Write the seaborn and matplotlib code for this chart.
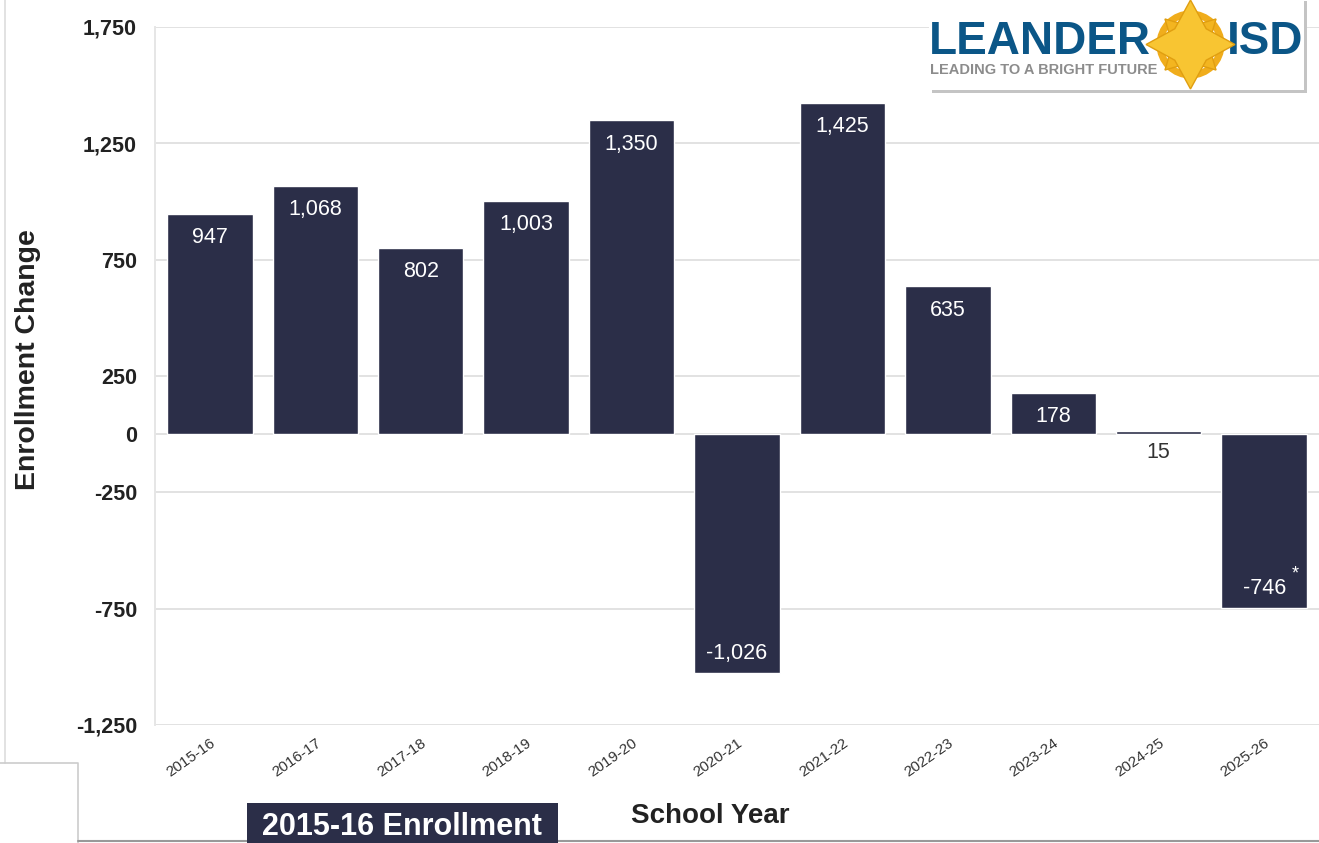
import matplotlib
matplotlib.use("Agg")
import matplotlib.pyplot as plt
import seaborn as sns
import pandas as pd
from matplotlib.lines import Line2D
from matplotlib.patches import Rectangle

years = ["2015-16", "2016-17", "2017-18", "2018-19", "2019-20", "2020-21",
         "2021-22", "2022-23", "2023-24", "2024-25", "2025-26"]
changes = [947, 1068, 802, 1003, 1350, -1026, 1425, 635, 178, 15, -746]
ytick_vals = [1750, 1250, 750, 250, 0, -250, -750, -1250]

sns.set_theme(style="whitegrid")
plt.rcParams['font.family'] = ['Liberation Sans', 'DejaVu Sans']

BAR = "#2b2e48"
df = pd.DataFrame({"year": years, "change": changes})

fig = plt.figure(figsize=(13.19, 8.43), dpi=100)
ax = fig.add_axes([0.1175, 0.14, 0.8825, 0.828])
sns.barplot(data=df, x="year", y="change", color=BAR, width=0.81,
            saturation=1, ax=ax, zorder=3)

ax.set_ylim(-1250, 1750)
ax.set_xlim(-0.52, len(years) - 0.48)
ax.set_yticks(ytick_vals)
ax.set_yticklabels([f"{v:,}" for v in ytick_vals], fontsize=15.5,
                   fontweight="bold", color="#222222")
ax.set_xticks(range(len(years)))
ax.set_xticklabels(years, rotation=35, ha="right", rotation_mode="anchor",
                   fontsize=11, color="#333333")
ax.tick_params(axis="x", pad=8, length=0)
ax.tick_params(axis="y", pad=13, length=0)
ax.grid(axis="y", color="#e2e2e2", linewidth=1.4, zorder=0)
ax.grid(axis="x", visible=False)
for s in ["top", "right", "bottom"]:
    ax.spines[s].set_visible(False)
ax.spines["left"].set_color("#e6e6e6")
ax.spines["left"].set_linewidth(1.4)

ax.set_ylabel("Enrollment Change", fontsize=20.5, fontweight="bold",
              color="#222222")
ax.yaxis.set_label_coords(-0.098, 0.524)
ax.set_xlabel("School Year", fontsize=20, fontweight="bold", color="#222222")
ax.xaxis.set_label_coords(0.477, -0.112)

LBL = 15.5
for i, v in enumerate(changes):
    if abs(v) < 100:
        ax.annotate(f"{v:,}", (i, 0), xytext=(0, -18), textcoords="offset pixels",
                    ha="center", va="center", fontsize=LBL, color="#333333", zorder=5)
    elif v > 0:
        ax.annotate(f"{v:,}", (i, v), xytext=(0, -24), textcoords="offset pixels",
                    ha="center", va="center", fontsize=LBL, color="white", zorder=5)
    else:
        ax.annotate(f"{v:,}", (i, v), xytext=(0, 19), textcoords="offset pixels",
                    ha="center", va="center", fontsize=LBL, color="white", zorder=5)
ax.annotate("*", (len(years) - 1, changes[-1]), xytext=(31, 34),
            textcoords="offset pixels", ha="center", va="center",
            fontsize=13, color="white", zorder=5)

# Logo box (top right)
W, H = 1319, 843
def fx(x): return x / W
def fy(y): return 1 - y / H
fig.add_artist(Rectangle((fx(932), fy(93)), fx(375), 92 / H, transform=fig.transFigure,
                         facecolor="#c4c4c4", edgecolor="none", zorder=9))
fig.add_artist(Rectangle((fx(929), fy(90)), fx(375), 90 / H, transform=fig.transFigure,
                         facecolor="white", edgecolor="none", zorder=10))
fig.text(fx(929), fy(42), "LEANDER", fontsize=33, fontweight="bold", color="#0b5687",
         ha="left", va="center", zorder=11)
fig.text(fx(1303), fy(42), "ISD", fontsize=33, fontweight="bold", color="#0b5687",
         ha="right", va="center", zorder=11)
fig.text(fx(930), fy(70), "LEADING TO A BRIGHT FUTURE", fontsize=10.5, fontweight="bold",
         color="#8c8c8c", ha="left", va="center", zorder=11)
cx, cy = fx(1190), fy(44)
fig.add_artist(Line2D([cx], [cy], marker="o", markersize=44, markerfacecolor="none",
                      markeredgecolor="#f0ad1c", markeredgewidth=5,
                      transform=fig.transFigure, zorder=12))
fig.add_artist(Line2D([cx], [cy], marker=(4, 1, 45), markersize=52,
                      color="#f3b520", markeredgecolor="#e09e10",
                      transform=fig.transFigure, zorder=13))
fig.add_artist(Line2D([cx], [cy], marker=(4, 1, 0), markersize=64,
                      color="#f8c532", markeredgecolor="#e09e10",
                      transform=fig.transFigure, zorder=14))

# Screenshot frame details
fig.add_artist(Line2D([fx(5), fx(5)], [fy(0), fy(763)], color="#dddddd", lw=1.2,
                      transform=fig.transFigure, zorder=1))
fig.add_artist(Line2D([0, fx(78), fx(78)], [fy(763), fy(763), fy(843)], color="#cccccc",
                      lw=1.2, transform=fig.transFigure, zorder=1))
fig.add_artist(Line2D([fx(78), 1], [fy(841), fy(841)], color="#999999", lw=1.5,
                      transform=fig.transFigure, zorder=1))

# Bottom caption box
fig.add_artist(Rectangle((fx(247), 0), fx(311), 40 / H, transform=fig.transFigure,
                         facecolor=BAR, edgecolor="none", zorder=9))
fig.text(fx(402), fy(827), "2015-16 Enrollment", fontsize=22, fontweight="bold",
         color="white", ha="center", va="center", zorder=10)

fig.savefig("out.png", dpi=100)
